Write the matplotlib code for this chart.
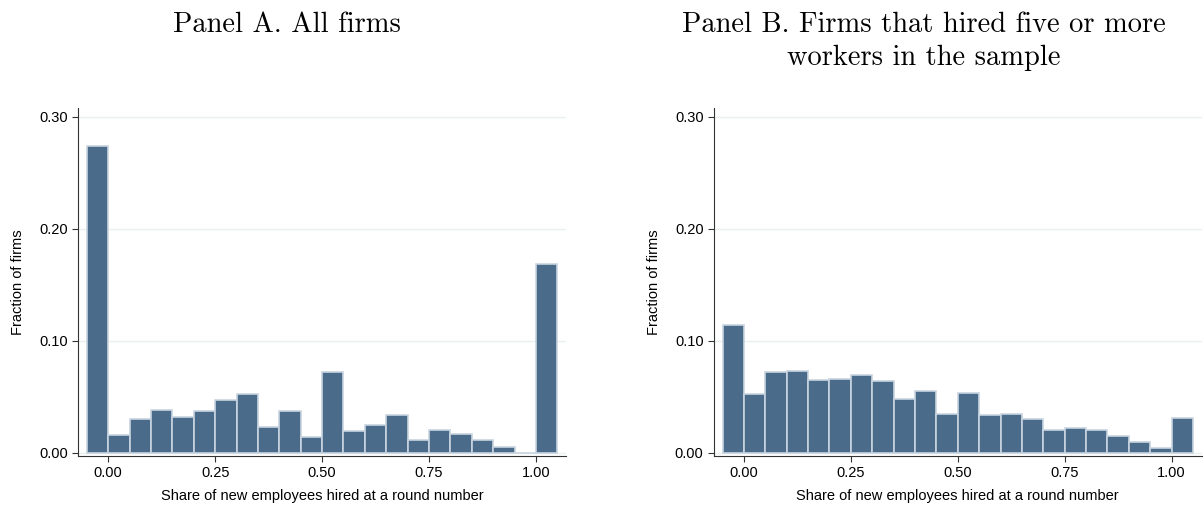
import matplotlib
matplotlib.use("Agg")
import matplotlib.pyplot as plt
import numpy as np

left_edges = [-0.05 + 0.05*i for i in range(22)]
panel_a = [0.274,0.016,0.030,0.038,0.032,0.037,0.047,0.052,0.023,0.037,0.014,0.072,
           0.019,0.025,0.034,0.011,0.020,0.017,0.011,0.005,0.0,0.169]
panel_b = [0.114,0.052,0.072,0.073,0.065,0.066,0.069,0.064,0.048,0.055,0.035,0.053,
           0.034,0.035,0.030,0.020,0.022,0.020,0.015,0.010,0.004,0.031]
titles = ["Panel A. All firms", "Panel B. Firms that hired five or more\nworkers in the sample"]
xticks = [0, 0.25, 0.5, 0.75, 1.0]
yticks = [0, 0.1, 0.2, 0.3]

plt.rcParams['font.family'] = ['Liberation Sans', 'DejaVu Sans']
fig = plt.figure(figsize=(12.04, 5.09), dpi=100)
axes = [fig.add_axes([0.065, 0.104, 0.405, 0.684]), fig.add_axes([0.593, 0.104, 0.405, 0.684])]
for ax, vals, t in zip(axes, [panel_a, panel_b], titles):
    ax.bar(left_edges, vals, width=0.05, align='edge', color='#4a6b8a',
           edgecolor='#c8d4e0', linewidth=1.2, zorder=3)
    ax.set_xlim(-0.07, 1.07)
    ax.set_ylim(-0.003, 0.308)
    ax.set_xticks(xticks)
    ax.set_xticklabels([f"{v:.2f}" for v in xticks])
    ax.set_yticks(yticks)
    ax.set_yticklabels([f"{v:.2f}" for v in yticks])
    ax.grid(axis='y', color='#e8f0f2', linewidth=1, zorder=0)
    for s in ['top', 'right']:
        ax.spines[s].set_visible(False)
    ax.spines['left'].set_color('#333333')
    ax.spines['bottom'].set_color('#333333')
    ax.tick_params(labelsize=10.5, length=4, color='#333333')
    ax.set_xlabel("Share of new employees hired at a round number", fontsize=10.5, labelpad=6)
    ax.set_ylabel("Fraction of firms", fontsize=10.5, labelpad=10)
fig.text(0.238, 0.978, titles[0], ha='center', va='top', family='cmr10', fontsize=20.5)
fig.text(0.767, 0.978, titles[1], ha='center', va='top', family='cmr10', fontsize=20.5, linespacing=1.35)
fig.savefig("out.png", dpi=100)
